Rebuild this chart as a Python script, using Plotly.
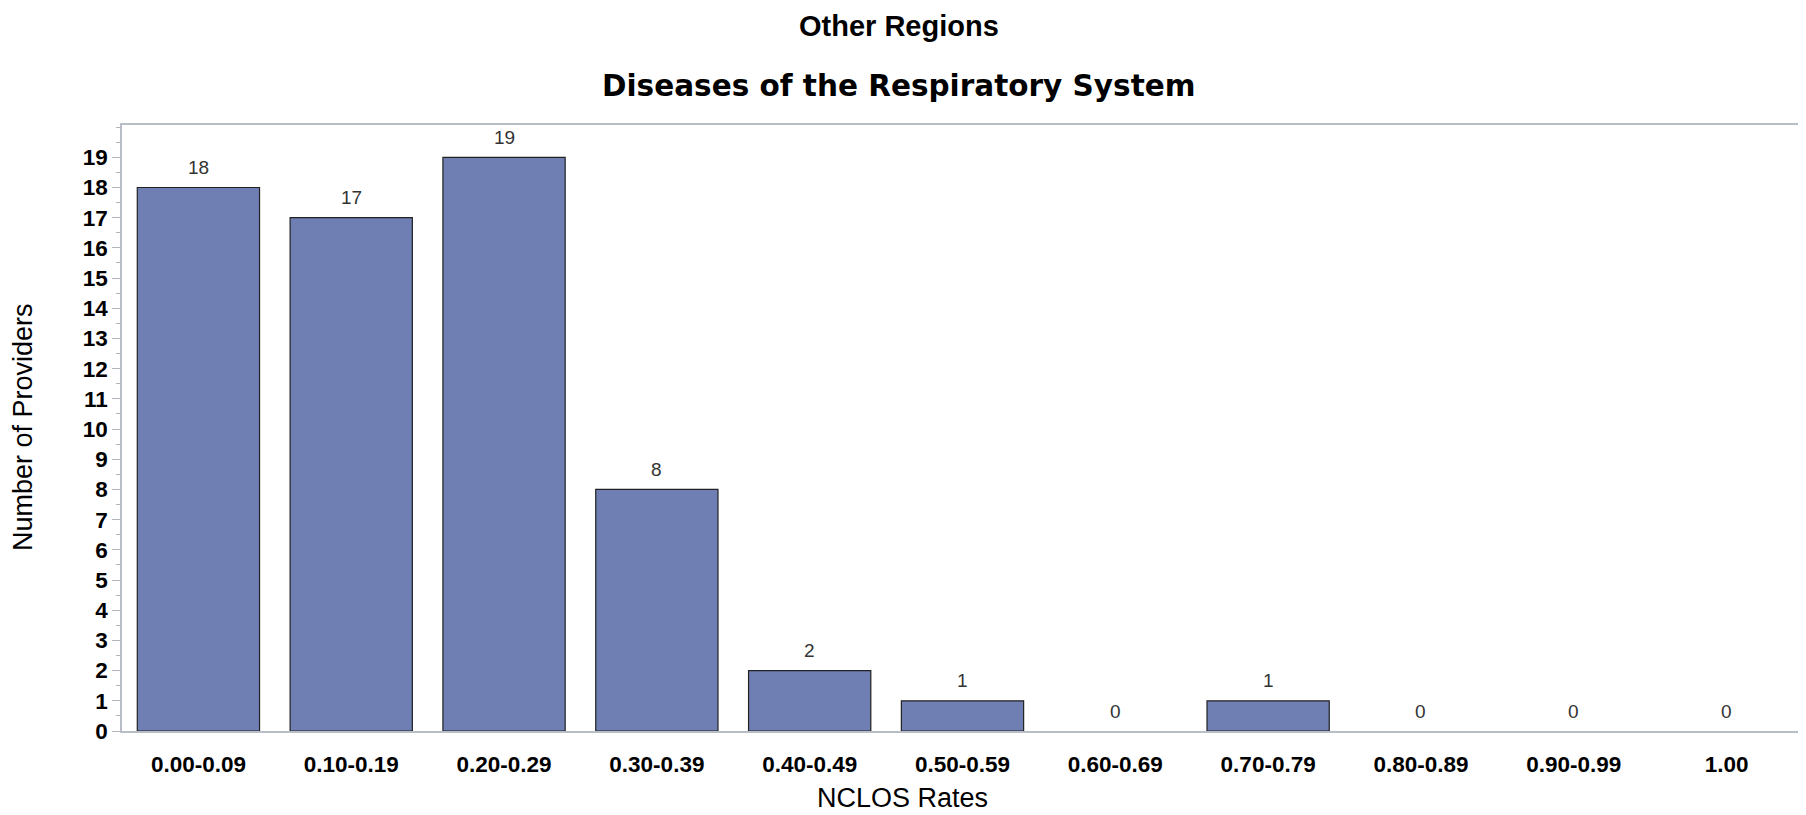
import plotly.graph_objects as go

categories = ["0.00-0.09", "0.10-0.19", "0.20-0.29", "0.30-0.39", "0.40-0.49",
              "0.50-0.59", "0.60-0.69", "0.70-0.79", "0.80-0.89", "0.90-0.99", "1.00"]
providers = [18, 17, 19, 8, 2, 1, 0, 1, 0, 0, 0]
y_ticks = list(range(0, 20))

title_text = "Other Regions"
subtitle_text = "Diseases of the Respiratory System"
x_title = "NCLOS Rates"
y_title = "Number of Providers"

# page is 1806x815; the html body adds an 8px offset, so the figure is sized to fit
OFF = 8
W, H = 1806 - OFF, 815 - OFF
plot_left, plot_right, plot_top, plot_bottom = 122, 1805, 125, 731  # page pixels
L = plot_left - OFF
R = W - (plot_right - OFF)
T = plot_top - OFF
B = H - (plot_bottom - OFF)
ph = H - T - B
pw = W - L - R

def py(pix):
    return (plot_bottom - pix) / ph

def px(pix):
    return (pix - plot_left) / pw

fig = go.Figure()
fig.add_trace(go.Bar(
    x=categories, y=providers, width=0.8,
    marker=dict(color="#6f7eb3",
                line=dict(color="#222222", width=[1.2 if v > 0 else 0 for v in providers])),
    hoverinfo="x+y",
))

annotations = []
for i, v in enumerate(providers):
    annotations.append(dict(x=i, y=v, xref="x", yref="y", text=str(v), showarrow=False,
                            yshift=20, font=dict(family="Liberation Sans, Arial", size=19, color="#333333")))

annotations += [
    dict(text=title_text, xref="paper", yref="paper", x=px(900), y=py(26), showarrow=False,
         xanchor="center", yanchor="middle",
         font=dict(family="Liberation Sans, Arial", size=29, color="#000000", weight="bold")),
    dict(text=subtitle_text, xref="paper", yref="paper", x=px(900), y=py(86), showarrow=False,
         xanchor="center", yanchor="middle",
         font=dict(family="DejaVu Sans", size=29.5, color="#000000", weight="bold")),
    dict(text=x_title, xref="paper", yref="paper", x=px(903), y=py(798), showarrow=False,
         xanchor="center", yanchor="middle",
         font=dict(family="Liberation Sans, Arial", size=27, color="#000000")),
    dict(text=y_title, xref="paper", yref="paper", x=px(23), y=py(427), showarrow=False,
         xanchor="center", yanchor="middle", textangle=-90,
         font=dict(family="Liberation Sans, Arial", size=27, color="#000000")),
]

fig.update_layout(
    width=W, height=H,
    margin=dict(l=L, r=R, t=T, b=B, pad=0),
    plot_bgcolor="white", paper_bgcolor="white",
    showlegend=False,
    bargap=0.2,
    annotations=annotations,
)
fig.update_xaxes(
    type="category", range=[-0.5, 10.5],
    showline=True, linecolor="#b9bec6", linewidth=1.5, mirror=True,
    ticks="outside", ticklen=12, tickcolor="rgba(0,0,0,0)",
    showgrid=False, zeroline=False,
    tickfont=dict(family="Liberation Sans, Arial", size=22.5, color="#000000", weight="bold"),
)
fig.update_yaxes(
    range=[0, 20.07],
    tickmode="array", tickvals=y_ticks, ticktext=[str(t) for t in y_ticks],
    showline=True, linecolor="#b9bec6", linewidth=1.5, mirror=True,
    ticks="outside", ticklen=8, tickcolor="#b0b4bb", tickwidth=1,
    minor=dict(ticks="outside", ticklen=4, tickcolor="#b0b4bb", dtick=0.5, tick0=0, showgrid=False),
    showgrid=False, zeroline=False,
    tickfont=dict(family="Liberation Sans, Arial", size=22.5, color="#000000", weight="bold"),
)

fig.write_html("out.html")
